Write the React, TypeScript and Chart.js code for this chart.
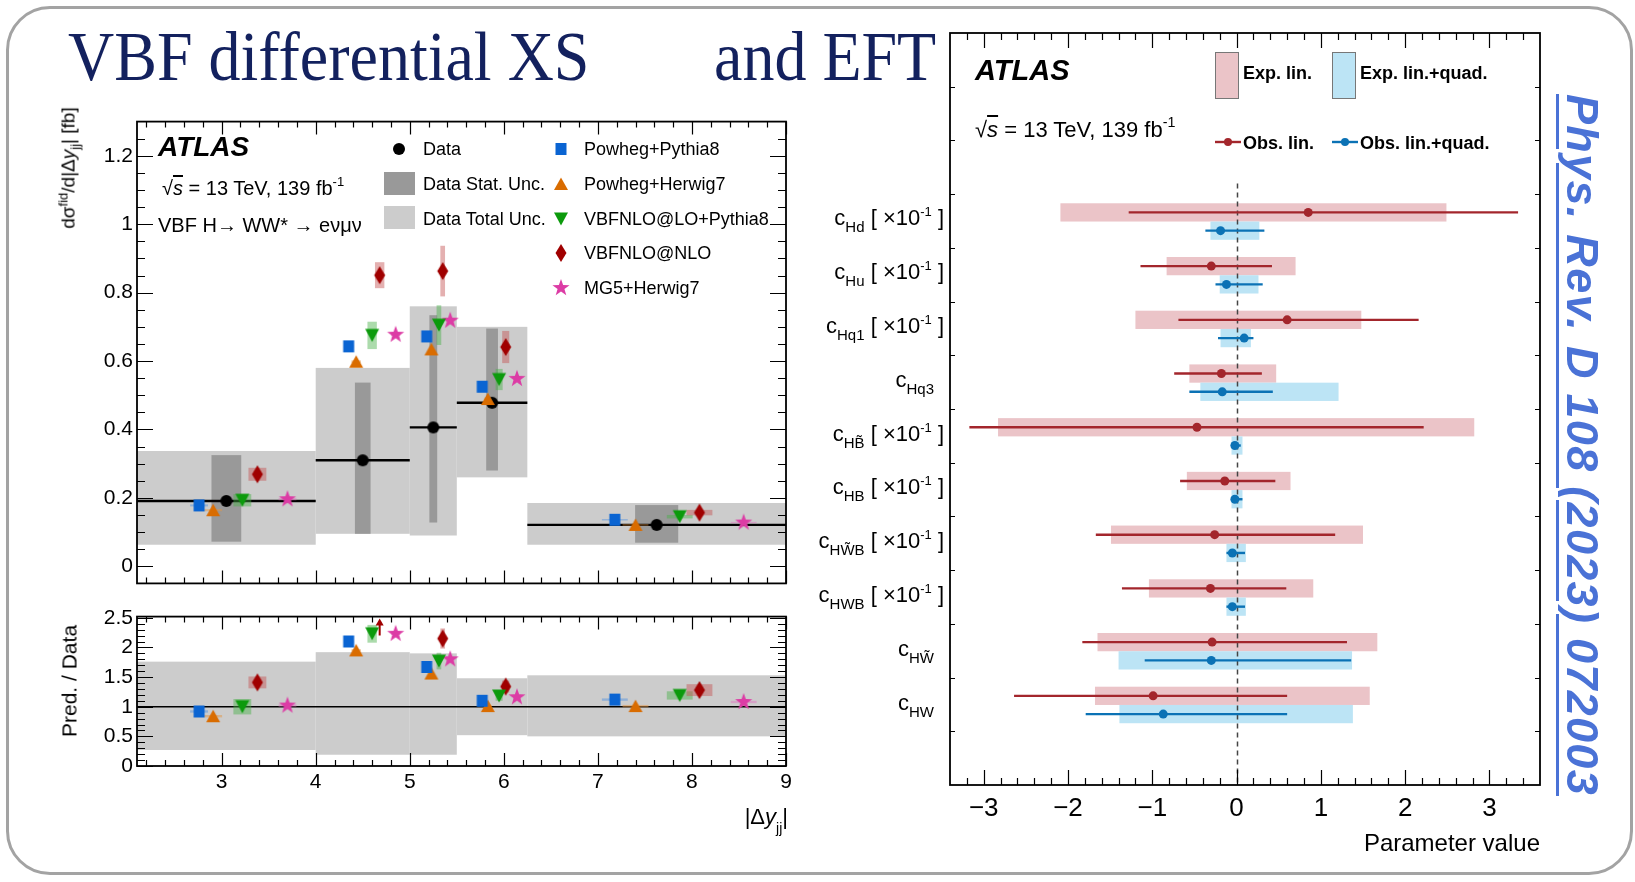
import React, { useEffect, useRef } from 'react';
import { Chart, registerables } from 'chart.js';

Chart.register(...registerables);

const SANS = '"Liberation Sans", Arial, Helvetica, sans-serif';
const SERIF = '"Liberation Serif", "Times New Roman", serif';

// ---------- |Δy_jj| differential cross-section (left panels) ----------
const binEdges = [2.1, 4.0, 5.0, 5.5, 6.25, 9.0];
const binCenters = [3.05, 4.5, 5.25, 5.875, 7.625];
const dataXsec = [0.191, 0.31, 0.406, 0.478, 0.121];
const statLow = [0.072, 0.095, 0.128, 0.28, 0.069];
const statHigh = [0.325, 0.537, 0.734, 0.695, 0.179];
const totalLow = [0.063, 0.095, 0.09, 0.26, 0.063];
const totalHigh = [0.337, 0.58, 0.76, 0.7, 0.185];
const ratioTotalLow = [0.27, 0.19, 0.19, 0.52, 0.5];
const ratioTotalHigh = [1.76, 1.92, 1.9, 1.48, 1.53];

const powPyX = [2.76, 4.35, 5.18, 5.77, 7.18];
const powPyXsec = [0.178, 0.643, 0.672, 0.525, 0.136];
const powPyUnc = [0.003, 0.004, 0.004, 0.004, 0.002];
const powPyRatio = [0.92, 2.1, 1.67, 1.1, 1.12];
const powPyRatioUnc = [0.02, 0.02, 0.02, 0.02, 0.02];

const powHwX = [2.91, 4.43, 5.23, 5.83, 7.4];
const powHwXsec = [0.164, 0.598, 0.634, 0.489, 0.121];
const powHwUnc = [0.003, 0.004, 0.004, 0.004, 0.002];
const powHwRatio = [0.84, 1.95, 1.56, 1.01, 1.01];
const powHwRatioUnc = [0.02, 0.02, 0.02, 0.02, 0.02];

const vbfLoX = [3.22, 4.6, 5.31, 5.95, 7.87];
const vbfLoXsec = [0.193, 0.675, 0.705, 0.546, 0.145];
const vbfLoUnc = [0.018, 0.04, 0.058, 0.031, 0.005];
const vbfLoRatio = [1.0, 2.23, 1.77, 1.18, 1.19];
const vbfLoRatioUnc = [0.13, 0.15, 0.14, 0.08, 0.07];

const vbfNloX = [3.38, 4.68, 5.35, 6.02, 8.08];
const vbfNloXsec = [0.269, 0.851, 0.863, 0.641, 0.157];
const vbfNloUnc = [0.019, 0.038, 0.074, 0.047, 0.008];
const vbfNloRatio = [1.41, 2.75, 2.15, 1.34, 1.28];
const vbfNloRatioUnc = [0.1, 0.12, 0.17, 0.1, 0.1];

const mg5X = [3.7, 4.85, 5.43, 6.14, 8.55];
const mg5Xsec = [0.196, 0.677, 0.718, 0.548, 0.128];
const mg5Unc = [0.003, 0.004, 0.004, 0.004, 0.002];
const mg5Ratio = [1.02, 2.23, 1.8, 1.16, 1.08];
const mg5RatioUnc = [0.02, 0.02, 0.02, 0.02, 0.02];

const xsecTicks = [0, 0.2, 0.4, 0.6, 0.8, 1, 1.2];
const ratioTicks = [0, 0.5, 1, 1.5, 2, 2.5];
const dyTicks = [3, 4, 5, 6, 7, 8, 9];
const RATIO_MAX = 2.52;

// ---------- EFT coefficient constraints (right panel) ----------
const coeffSub = ['Hd', 'Hu', 'Hq1', 'Hq3', 'HB\u0303', 'HB', 'HW\u0303B', 'HWB', 'HW\u0303', 'HW'];
const coeffScaled = [true, true, true, false, true, true, true, true, false, false];
const obsLin = [0.85, -0.3, 0.6, -0.18, -0.47, -0.14, -0.26, -0.31, -0.29, -0.99];
const obsLinLo = [-1.28, -1.14, -0.69, -0.74, -3.17, -0.67, -1.67, -1.36, -1.83, -2.64];
const obsLinHi = [3.34, 0.42, 2.16, 0.3, 2.22, 0.46, 1.17, 0.59, 1.31, 0.6];
const expLinLo = [-2.09, -0.83, -1.2, -0.56, -2.83, -0.59, -1.49, -1.04, -1.65, -1.68];
const expLinHi = [2.49, 0.7, 1.48, 0.47, 2.82, 0.64, 1.5, 0.91, 1.67, 1.58];
const obsQuad = [-0.19, -0.12, 0.09, -0.17, -0.02, -0.02, -0.05, -0.05, -0.3, -0.87];
const obsQuadLo = [-0.37, -0.25, -0.22, -0.56, -0.06, -0.05, -0.12, -0.12, -1.09, -1.79];
const obsQuadHi = [0.33, 0.31, 0.2, 0.43, 0.05, 0.07, 0.1, 0.1, 1.36, 0.6];
const expQuadLo = [-0.31, -0.2, -0.19, -0.43, -0.06, -0.06, -0.12, -0.12, -1.4, -1.39];
const expQuadHi = [0.27, 0.26, 0.17, 1.21, 0.07, 0.07, 0.11, 0.11, 1.37, 1.38];
const eftTicks = [-3, -2, -1, 0, 1, 2, 3];

// row layout inside one coefficient slot
const ROW_LIN = 0.34;
const ROW_QUAD = 0.68;
const BOX_TOP = 0.17;
const BOX_MID = 0.51;
const BOX_BOT = 0.85;

const RED = '#a3262c';
const RED_BOX = '#ebc4c8';
const BLUE = '#0b72b5';
const BLUE_BOX = '#bce4f5';

function starPath(ro: number, ri: number) {
  let d = '';
  for (let k = 0; k < 10; k++) {
    const r = k % 2 ? ri : ro;
    const a = -Math.PI / 2 + (k * Math.PI) / 5;
    d += (k ? 'L' : 'M') + (r * Math.cos(a)).toFixed(2) + ',' + (r * Math.sin(a)).toFixed(2);
  }
  return d + 'Z';
}

const markerPaths: Record<string, string> = {
  circle: 'M6,0A6,6 0 1 1 -6,0A6,6 0 1 1 6,0Z',
  square: 'M-5.5,-6H5.5V6H-5.5Z',
  triUp: 'M0,-6.5L7,6L-7,6Z',
  triDown: 'M-7,-6.5L7,-6.5L0,6.5Z',
  diamond: 'M0,-9L5.5,0L0,9L-5.5,0Z',
  star: starPath(9, 3.6),
};

const generators = [
  { name: 'Powheg+Pythia8', shape: 'square', color: '#0a64d2', box: 'rgba(70,140,225,0.45)', x: powPyX, xsec: powPyXsec, unc: powPyUnc, ratio: powPyRatio, ratioUnc: powPyRatioUnc },
  { name: 'Powheg+Herwig7', shape: 'triUp', color: '#d96c00', box: 'rgba(225,150,70,0.5)', x: powHwX, xsec: powHwXsec, unc: powHwUnc, ratio: powHwRatio, ratioUnc: powHwRatioUnc },
  { name: 'VBFNLO@LO+Pythia8', shape: 'triDown', color: '#0c9a0c', box: 'rgba(70,175,70,0.45)', x: vbfLoX, xsec: vbfLoXsec, unc: vbfLoUnc, ratio: vbfLoRatio, ratioUnc: vbfLoRatioUnc },
  { name: 'VBFNLO@NLO', shape: 'diamond', color: '#a00000', box: 'rgba(195,80,80,0.45)', x: vbfNloX, xsec: vbfNloXsec, unc: vbfNloUnc, ratio: vbfNloRatio, ratioUnc: vbfNloRatioUnc },
  { name: 'MG5+Herwig7', shape: 'star', color: '#dc3ca5', box: 'rgba(225,110,190,0.45)', x: mg5X, xsec: mg5Xsec, unc: mg5Unc, ratio: mg5Ratio, ratioUnc: mg5RatioUnc },
];

function makeMarker(shape: string, color: string) {
  const c = document.createElement('canvas');
  c.width = 22;
  c.height = 22;
  const g = c.getContext('2d') as CanvasRenderingContext2D;
  g.translate(11, 11);
  g.fillStyle = color;
  g.fill(new Path2D(markerPaths[shape]));
  return c;
}

function steps(from: number, to: number, step: number) {
  const out: number[] = [];
  for (let v = from; v <= to + 1e-9; v += step) out.push(+v.toFixed(4));
  return out;
}

function fillBox(ctx: any, xs: any, ys: any, x0: number, x1: number, y0: number, y1: number, color: string) {
  const px0 = xs.getPixelForValue(x0);
  const px1 = xs.getPixelForValue(x1);
  const py0 = ys.getPixelForValue(y0);
  const py1 = ys.getPixelForValue(y1);
  ctx.fillStyle = color;
  ctx.fillRect(Math.min(px0, px1), Math.min(py0, py1), Math.abs(px1 - px0), Math.abs(py1 - py0));
}

function hLine(ctx: any, xs: any, ys: any, x0: number, x1: number, y: number) {
  const py = ys.getPixelForValue(y);
  ctx.beginPath();
  ctx.moveTo(xs.getPixelForValue(x0), py);
  ctx.lineTo(xs.getPixelForValue(x1), py);
  ctx.stroke();
}

type FrameSpec = {
  xMajor: number[]; xMinor: number[]; yMajor: number[]; yMinor: number[];
  xLen: [number, number]; yLen: [number, number];
};

// ROOT-style frame with inward ticks on all four sides
function drawFrame(chart: any, t: FrameSpec) {
  const { ctx, chartArea: a, scales } = chart;
  const xs = scales.x;
  const ys = scales.y;
  ctx.save();
  ctx.strokeStyle = '#000';
  ctx.lineWidth = 1.2;
  ctx.beginPath();
  const vx = (v: number, len: number) => {
    const p = Math.round(xs.getPixelForValue(v)) + 0.5;
    ctx.moveTo(p, a.bottom); ctx.lineTo(p, a.bottom - len);
    ctx.moveTo(p, a.top); ctx.lineTo(p, a.top + len);
  };
  const hy = (v: number, len: number) => {
    const p = Math.round(ys.getPixelForValue(v)) + 0.5;
    ctx.moveTo(a.left, p); ctx.lineTo(a.left + len, p);
    ctx.moveTo(a.right, p); ctx.lineTo(a.right - len, p);
  };
  t.xMajor.forEach((v) => vx(v, t.xLen[0]));
  t.xMinor.forEach((v) => vx(v, t.xLen[1]));
  t.yMajor.forEach((v) => hy(v, t.yLen[0]));
  t.yMinor.forEach((v) => hy(v, t.yLen[1]));
  ctx.stroke();
  ctx.lineWidth = 1.8;
  ctx.strokeRect(a.left, a.top, a.right - a.left, a.bottom - a.top);
  ctx.restore();
}

const tickFont = { family: SANS, size: 21 };

function fixedWidth(w: number) {
  return (s: any) => { s.width = w; };
}
function fixedHeight(h: number) {
  return (s: any) => { s.height = h; };
}
function setTicks(vals: number[]) {
  return (s: any) => { s.ticks = vals.map((v) => ({ value: v })); };
}

function buildXsecChart(canvas: HTMLCanvasElement) {
  const plugin = {
    id: 'xsecBands',
    beforeDatasetsDraw(chart: any) {
      const { ctx, chartArea: a, scales: { x, y } } = chart;
      ctx.save();
      ctx.beginPath();
      ctx.rect(a.left, a.top, a.right - a.left, a.bottom - a.top);
      ctx.clip();
      for (let i = 0; i < binCenters.length; i++) {
        fillBox(ctx, x, y, binEdges[i], binEdges[i + 1], totalLow[i], totalHigh[i], '#cccccc');
      }
      for (let i = 0; i < binCenters.length; i++) {
        const hw = (binEdges[i + 1] - binEdges[i]) / 12;
        fillBox(ctx, x, y, binCenters[i] - hw, binCenters[i] + hw, statLow[i], statHigh[i], '#999999');
      }
      ctx.strokeStyle = '#000';
      ctx.lineWidth = 2.4;
      for (let i = 0; i < binCenters.length; i++) hLine(ctx, x, y, binEdges[i], binEdges[i + 1], dataXsec[i]);
      generators.forEach((g) => {
        for (let i = 0; i < binCenters.length; i++) {
          const hw = (binEdges[i + 1] - binEdges[i]) / 20;
          fillBox(ctx, x, y, g.x[i] - hw, g.x[i] + hw, g.xsec[i] - g.unc[i], g.xsec[i] + g.unc[i], g.box);
        }
      });
      ctx.restore();
    },
    afterDraw(chart: any) {
      drawFrame(chart, {
        xMajor: dyTicks, xMinor: steps(2.2, 8.8, 0.2),
        yMajor: xsecTicks, yMinor: steps(0.05, 1.25, 0.05),
        xLen: [13, 6], yLen: [16, 8],
      });
    },
  };
  const datasets: any[] = generators.map((g) => ({
    label: g.name,
    data: g.x.map((x, i) => ({ x, y: g.xsec[i] })),
    pointStyle: makeMarker(g.shape, g.color),
    pointRadius: 6,
  }));
  datasets.push({
    label: 'Data',
    data: binCenters.map((x, i) => ({ x, y: dataXsec[i] })),
    pointStyle: makeMarker('circle', '#000'),
    pointRadius: 6,
  });
  return new Chart(canvas, {
    type: 'scatter',
    data: { datasets },
    options: {
      animation: false,
      responsive: false,
      devicePixelRatio: 1,
      events: [],
      layout: { padding: { top: 10, right: 14, bottom: 14, left: 0 } },
      plugins: { legend: { display: false }, tooltip: { enabled: false } },
      scales: {
        x: { type: 'linear', min: 2.1, max: 9, display: false },
        y: {
          type: 'linear', min: -0.05, max: 1.3,
          afterFit: fixedWidth(57),
          afterBuildTicks: setTicks(xsecTicks),
          grid: { display: false, drawTicks: false },
          border: { display: false },
          ticks: { font: tickFont, color: '#000', padding: 4, callback: (v: any) => String(v) },
        },
      },
    } as any,
    plugins: [plugin],
  });
}

function buildRatioChart(canvas: HTMLCanvasElement) {
  const plugin = {
    id: 'ratioBands',
    beforeDatasetsDraw(chart: any) {
      const { ctx, chartArea: a, scales: { x, y } } = chart;
      ctx.save();
      ctx.beginPath();
      ctx.rect(a.left, a.top, a.right - a.left, a.bottom - a.top);
      ctx.clip();
      for (let i = 0; i < binCenters.length; i++) {
        fillBox(ctx, x, y, binEdges[i], binEdges[i + 1], ratioTotalLow[i], ratioTotalHigh[i], '#cccccc');
      }
      ctx.strokeStyle = '#000';
      ctx.lineWidth = 1.4;
      hLine(ctx, x, y, 2.1, 9, 1);
      generators.forEach((g) => {
        for (let i = 0; i < binCenters.length; i++) {
          if (g.ratio[i] > RATIO_MAX) continue;
          const hw = (binEdges[i + 1] - binEdges[i]) / 20;
          fillBox(ctx, x, y, g.x[i] - hw, g.x[i] + hw, g.ratio[i] - g.ratioUnc[i], g.ratio[i] + g.ratioUnc[i], g.box);
        }
      });
      // off-scale predictions are shown as arrows pointing up
      generators.forEach((g) => {
        for (let i = 0; i < binCenters.length; i++) {
          if (g.ratio[i] <= RATIO_MAX) continue;
          const px = x.getPixelForValue(g.x[i]);
          const y0 = y.getPixelForValue(2.2);
          const y1 = y.getPixelForValue(2.47);
          ctx.strokeStyle = g.color;
          ctx.fillStyle = g.color;
          ctx.lineWidth = 2;
          ctx.beginPath();
          ctx.moveTo(px, y0);
          ctx.lineTo(px, y1 + 4);
          ctx.stroke();
          ctx.beginPath();
          ctx.moveTo(px, y1 - 1);
          ctx.lineTo(px - 4, y1 + 6);
          ctx.lineTo(px + 4, y1 + 6);
          ctx.closePath();
          ctx.fill();
        }
      });
      ctx.restore();
    },
    afterDraw(chart: any) {
      drawFrame(chart, {
        xMajor: dyTicks, xMinor: steps(2.2, 8.8, 0.2),
        yMajor: ratioTicks, yMinor: steps(0.1, 2.5, 0.1),
        xLen: [13, 6], yLen: [16, 8],
      });
    },
  };
  const datasets = generators.map((g) => ({
    label: g.name,
    data: g.x.map((x, i) => ({ x, y: g.ratio[i] > RATIO_MAX ? null : g.ratio[i] })),
    pointStyle: makeMarker(g.shape, g.color),
    pointRadius: 6,
  }));
  return new Chart(canvas, {
    type: 'scatter',
    data: { datasets },
    options: {
      animation: false,
      responsive: false,
      devicePixelRatio: 1,
      events: [],
      layout: { padding: { top: 9, right: 14, bottom: 0, left: 0 } },
      plugins: { legend: { display: false }, tooltip: { enabled: false } },
      scales: {
        x: {
          type: 'linear', min: 2.1, max: 9,
          afterFit: fixedHeight(84),
          afterBuildTicks: setTicks(dyTicks),
          grid: { display: false, drawTicks: false },
          border: { display: false },
          ticks: { font: tickFont, color: '#000', padding: 4, maxRotation: 0, callback: (v: any) => String(v) },
        },
        y: {
          type: 'linear', min: 0, max: RATIO_MAX,
          afterFit: fixedWidth(57),
          afterBuildTicks: setTicks(ratioTicks),
          grid: { display: false, drawTicks: false },
          border: { display: false },
          ticks: { font: tickFont, color: '#000', padding: 4, callback: (v: any) => String(v) },
        },
      },
    } as any,
    plugins: [plugin],
  });
}

function buildEftChart(canvas: HTMLCanvasElement) {
  const plugin = {
    id: 'eftIntervals',
    beforeDatasetsDraw(chart: any) {
      const { ctx, chartArea: a, scales: { x, y } } = chart;
      ctx.save();
      ctx.beginPath();
      ctx.rect(a.left, a.top, a.right - a.left, a.bottom - a.top);
      ctx.clip();
      for (let i = 0; i < obsLin.length; i++) {
        fillBox(ctx, x, y, expLinLo[i], expLinHi[i], i + BOX_TOP, i + BOX_MID, RED_BOX);
        fillBox(ctx, x, y, expQuadLo[i], expQuadHi[i], i + BOX_MID, i + BOX_BOT, BLUE_BOX);
      }
      const zx = Math.round(x.getPixelForValue(0)) + 0.5;
      ctx.strokeStyle = '#444';
      ctx.lineWidth = 1.5;
      ctx.setLineDash([5, 4]);
      ctx.beginPath();
      ctx.moveTo(zx, y.getPixelForValue(-0.2));
      ctx.lineTo(zx, a.bottom);
      ctx.stroke();
      ctx.setLineDash([]);
      ctx.lineWidth = 2.4;
      for (let i = 0; i < obsLin.length; i++) {
        ctx.strokeStyle = RED;
        hLine(ctx, x, y, obsLinLo[i], obsLinHi[i], i + ROW_LIN);
        ctx.strokeStyle = BLUE;
        hLine(ctx, x, y, obsQuadLo[i], obsQuadHi[i], i + ROW_QUAD);
      }
      ctx.restore();
    },
    afterDraw(chart: any) {
      drawFrame(chart, {
        xMajor: eftTicks, xMinor: steps(-3.2, 3.4, 0.2).filter((v) => !Number.isInteger(v)),
        yMajor: steps(-2, 10, 1), yMinor: [],
        xLen: [15, 7], yLen: [5, 0],
      });
    },
  };
  return new Chart(canvas, {
    type: 'scatter',
    data: {
      datasets: [
        {
          label: 'Obs. lin.',
          data: obsLin.map((x, i) => ({ x, y: i + ROW_LIN })),
          pointStyle: 'circle', pointRadius: 4.5, backgroundColor: RED, borderColor: RED, borderWidth: 0,
        },
        {
          label: 'Obs. lin.+quad.',
          data: obsQuad.map((x, i) => ({ x, y: i + ROW_QUAD })),
          pointStyle: 'circle', pointRadius: 4.5, backgroundColor: BLUE, borderColor: BLUE, borderWidth: 0,
        },
      ],
    },
    options: {
      animation: false,
      responsive: false,
      devicePixelRatio: 1,
      events: [],
      layout: { padding: { top: 13, right: 20, bottom: 0, left: 0 } },
      plugins: { legend: { display: false }, tooltip: { enabled: false } },
      scales: {
        x: {
          type: 'linear', min: -3.4, max: 3.6,
          afterFit: fixedHeight(97),
          afterBuildTicks: setTicks(eftTicks),
          grid: { display: false, drawTicks: false },
          border: { display: false },
          ticks: {
            font: { family: SANS, size: 26 }, color: '#000', padding: 8, maxRotation: 0,
            callback: (v: any) => (v < 0 ? '\u2212' + Math.abs(v) : String(v)),
          },
        },
        y: {
          type: 'linear', min: -3, max: 11, reverse: true,
          afterFit: fixedWidth(70),
          grid: { display: false, drawTicks: false },
          border: { display: false },
          ticks: { display: false },
        },
      },
    } as any,
    plugins: [plugin],
  });
}

function Txt(props: { x: number; y: number; size: number; right?: boolean; style?: any; children: any }) {
  const { x, y, size, right, style, children } = props;
  const pos: any = right ? { right: 1635 - x } : { left: x };
  return (
    <div style={{ position: 'absolute', ...pos, top: y - 0.49 * size, fontSize: size, lineHeight: `${size}px`, whiteSpace: 'nowrap', ...style }}>
      {children}
    </div>
  );
}

function Mark(props: { shape: string; color: string; x: number; y: number }) {
  return (
    <svg width={22} height={22} viewBox="-11 -11 22 22" style={{ position: 'absolute', left: props.x - 11, top: props.y - 11 }}>
      <path d={markerPaths[props.shape]} fill={props.color} />
    </svg>
  );
}

function Rotated(props: { x: number; y: number; size: number; children: any }) {
  return (
    <div style={{ position: 'absolute', left: props.x, top: props.y, width: 0, height: 0 }}>
      <div style={{ position: 'absolute', left: 0, top: 0, transform: 'translate(-50%,-50%) rotate(-90deg)', fontSize: props.size, lineHeight: `${props.size}px`, whiteSpace: 'nowrap' }}>
        {props.children}
      </div>
    </div>
  );
}

const sub = (size: number, drop: number) => ({ fontSize: size, position: 'relative' as const, top: drop });

function SqrtS(props: { size: number }) {
  const s = props.size;
  return (
    <span>
      √<span style={{ fontStyle: 'italic', textDecoration: 'overline' }}>s</span> = 13 TeV, 139 fb
      <span style={sub(s * 0.65, -s * 0.45)}>-1</span>
    </span>
  );
}

export default function App() {
  const xsecRef = useRef<HTMLCanvasElement>(null);
  const ratioRef = useRef<HTMLCanvasElement>(null);
  const eftRef = useRef<HTMLCanvasElement>(null);

  useEffect(() => {
    const charts = [
      buildXsecChart(xsecRef.current as HTMLCanvasElement),
      buildRatioChart(ratioRef.current as HTMLCanvasElement),
      buildEftChart(eftRef.current as HTMLCanvasElement),
    ];
    return () => charts.forEach((c) => c.destroy());
  }, []);

  const legendRows = [149, 184, 219, 253, 288];
  const coeffY = (i: number) => 193.3 + (i + 0.5) * 53.84;

  return (
    <div style={{ position: 'absolute', left: 0, top: 0, width: 1635, height: 882, background: '#fff', overflow: 'hidden', fontFamily: SANS, color: '#000' }}>
      <div style={{ position: 'absolute', left: 6, top: 6, width: 1627, height: 869, boxSizing: 'border-box', border: '3px solid #a3a3a3', borderRadius: 44 }} />

      <div style={{ position: 'absolute', left: 68, top: 27, fontFamily: SERIF, fontSize: 64, lineHeight: '64px', color: '#13215e', transform: 'scaleY(1.1)', transformOrigin: '0 54px', whiteSpace: 'nowrap' }}>
        VBF differential XS
      </div>
      <div style={{ position: 'absolute', left: 714, top: 27, fontFamily: SERIF, fontSize: 64, lineHeight: '64px', color: '#13215e', transform: 'scaleY(1.1)', transformOrigin: '0 54px', whiteSpace: 'nowrap' }}>
        and EFT
      </div>

      <canvas ref={xsecRef} width={720} height={495} style={{ position: 'absolute', left: 80, top: 105 }} />
      <canvas ref={ratioRef} width={720} height={250} style={{ position: 'absolute', left: 80, top: 600 }} />
      <canvas ref={eftRef} width={680} height={862} style={{ position: 'absolute', left: 880, top: 20 }} />

      {/* left panel annotations */}
      <Txt x={158} y={147} size={28} style={{ fontWeight: 700, fontStyle: 'italic' }}>ATLAS</Txt>
      <Txt x={162} y={188} size={20}><SqrtS size={20} /></Txt>
      <Txt x={158} y={225} size={20}>VBF H→ WW* → eνμν</Txt>

      <Mark shape="circle" color="#000" x={399} y={legendRows[0]} />
      <div style={{ position: 'absolute', left: 384, top: 172, width: 31, height: 23, background: '#999999' }} />
      <div style={{ position: 'absolute', left: 384, top: 206, width: 31, height: 23, background: '#cccccc' }} />
      <Txt x={423} y={legendRows[0]} size={18}>Data</Txt>
      <Txt x={423} y={legendRows[1]} size={18}>Data Stat. Unc.</Txt>
      <Txt x={423} y={legendRows[2]} size={18}>Data Total Unc.</Txt>
      {generators.map((g, i) => (
        <React.Fragment key={g.name}>
          <Mark shape={g.shape} color={g.color} x={561} y={legendRows[i]} />
          <Txt x={584} y={legendRows[i]} size={18}>{g.name}</Txt>
        </React.Fragment>
      ))}

      <Rotated x={69} y={168} size={19}>
        dσ<span style={sub(13, -7)}>fid</span>/d|Δ<span style={{ fontStyle: 'italic' }}>y</span>
        <span style={sub(13, 5)}>jj</span>| [fb]
      </Rotated>
      <Rotated x={69} y={681} size={21}>Pred. / Data</Rotated>
      <Txt x={788} y={817} size={22} right>
        |Δ<span style={{ fontStyle: 'italic' }}>y</span><span style={sub(14, 9)}>jj</span>|
      </Txt>

      {/* right panel annotations */}
      <Txt x={975} y={70} size={29} style={{ fontWeight: 700, fontStyle: 'italic' }}>ATLAS</Txt>
      <Txt x={975} y={130} size={22}><SqrtS size={22} /></Txt>
      <div style={{ position: 'absolute', left: 1215, top: 52, width: 24, height: 47, boxSizing: 'border-box', background: RED_BOX, border: '1.5px solid #777' }} />
      <Txt x={1243} y={73} size={18} style={{ fontWeight: 700 }}>Exp. lin.</Txt>
      <div style={{ position: 'absolute', left: 1332, top: 52, width: 24, height: 47, boxSizing: 'border-box', background: BLUE_BOX, border: '1.5px solid #777' }} />
      <Txt x={1360} y={73} size={18} style={{ fontWeight: 700 }}>Exp. lin.+quad.</Txt>
      <svg width={30} height={12} style={{ position: 'absolute', left: 1213, top: 136 }}>
        <line x1={2} y1={6} x2={28} y2={6} stroke={RED} strokeWidth={2.4} />
        <circle cx={15} cy={6} r={4} fill={RED} />
      </svg>
      <Txt x={1243} y={143} size={18} style={{ fontWeight: 700 }}>Obs. lin.</Txt>
      <svg width={30} height={12} style={{ position: 'absolute', left: 1330, top: 136 }}>
        <line x1={2} y1={6} x2={28} y2={6} stroke={BLUE} strokeWidth={2.4} />
        <circle cx={15} cy={6} r={4} fill={BLUE} />
      </svg>
      <Txt x={1360} y={143} size={18} style={{ fontWeight: 700 }}>Obs. lin.+quad.</Txt>

      {coeffSub.map((s, i) => (
        <div key={s} style={{ position: 'absolute', right: 1635 - (coeffScaled[i] ? 944 : 934), top: coeffY(i) - 13, fontSize: 22, lineHeight: '22px', whiteSpace: 'nowrap' }}>
          c<span style={sub(15, 7)}>{s}</span>
          {coeffScaled[i] ? (
            <span> [ ×10<span style={sub(13, -9)}>-1</span> ]</span>
          ) : null}
        </div>
      ))}

      <Txt x={1540} y={843} size={24} right>Parameter value</Txt>

      <div style={{ position: 'absolute', left: 1605, top: 94, transform: 'rotate(90deg)', transformOrigin: '0 0', fontSize: 45, lineHeight: '45px', fontWeight: 700, fontStyle: 'italic', color: '#4a72d6', textDecoration: 'underline', textUnderlineOffset: '8px', textDecorationThickness: '3px', letterSpacing: '1.3px', whiteSpace: 'nowrap' }}>
        Phys. Rev. D 108 (2023) 072003
      </div>
    </div>
  );
}
